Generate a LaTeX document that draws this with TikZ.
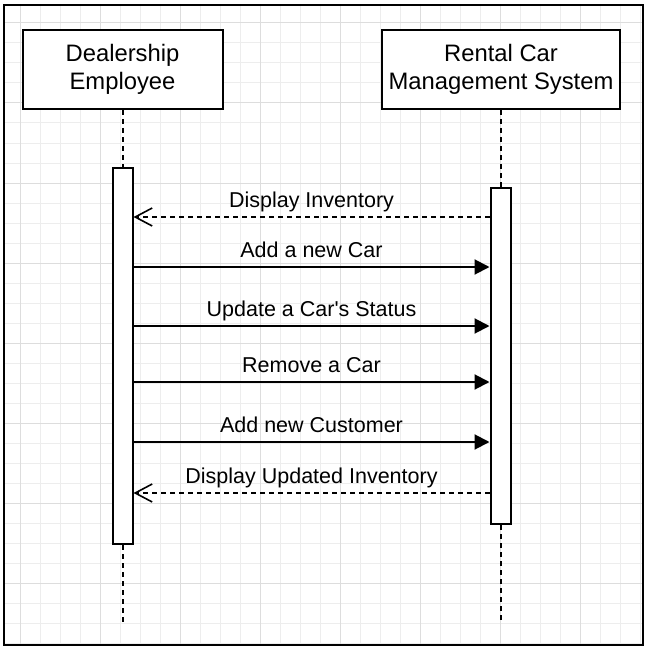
\documentclass[tikz,border=0pt]{standalone}
\usepackage{fontspec}
\setmainfont{Liberation Sans}
\usetikzlibrary{arrows.meta}

\tikzset{
  actor/.style={draw, line width=2pt, fill=white, minimum width=200pt, minimum height=79pt, align=center, font=\fontsize{23.8}{28}\selectfont},
  activation/.style={draw, line width=2pt, fill=white, minimum width=20pt, inner sep=0pt},
  lifeline/.style={line width=2pt, dash pattern=on 5pt off 4pt},
  call/.style={line width=2pt, -{Triangle[length=15pt,width=15pt]}},
  reply/.style={line width=1.6pt, dash pattern=on 5pt off 4pt, -{Straight Barb[length=17pt,width=18pt]}},
  msg/.style={midway, above, inner sep=4pt, text depth=5pt, font=\fontsize{21.5}{26}\selectfont}
}

\begin{document}
\begin{tikzpicture}[x=1pt, y=-1pt]
    \useasboundingbox[fill=white] (0,0) rectangle (647,650);
    % grid
    \begin{scope}
    \clip (4,5) rectangle (643,645);
    \foreach \x in {0,20,...,640} \draw[gray!14, line width=1pt] (\x,0) -- (\x,650);
    \foreach \y in {3,23,...,643} \draw[gray!14, line width=1pt] (0,\y) -- (647,\y);
    \foreach \x in {20,100,...,580} \draw[gray!27, line width=1pt] (\x,0) -- (\x,650);
    \foreach \y in {23,103,...,583} \draw[gray!27, line width=1pt] (0,\y) -- (647,\y);
    \end{scope}
    \draw[line width=2.5pt] (4,5) rectangle (643,645);

    \node[actor] at (122.5,69.5) (emp) {Dealership\\Employee};
    \node[actor, minimum width=238pt] at (501,69.5) (sys) {Rental Car\\Management System};
    \node[activation, minimum height=376pt] at (122.5,356) (actE) {};
    \node[activation, minimum height=336pt] at (500.5,356) (actS) {};
    \coordinate (endE) at (122.5,623);
    \coordinate (endS) at (500.5,623);

    \draw[lifeline] (emp.south) -- (actE.north);
    \draw[lifeline] (actE.south) -- (endE);
    \draw[lifeline] (sys.south -| actS.north) -- (actS.north);
    \draw[lifeline] (actS.south) -- (endS);

    \draw[reply] (actS.west |- 0,217) -- node[msg] {Display Inventory} (actE.east |- 0,217);
    \draw[call] (actE.east |- 0,267) -- node[msg] {Add a new Car} (actS.west |- 0,267);
    \draw[call] (actE.east |- 0,326) -- node[msg] {Update a Car\textquotesingle s Status} (actS.west |- 0,326);
    \draw[call] (actE.east |- 0,382) -- node[msg] {Remove a Car} (actS.west |- 0,382);
    \draw[call] (actE.east |- 0,442) -- node[msg] {Add new Customer} (actS.west |- 0,442);
    \draw[reply] (actS.west |- 0,493) -- node[msg] {Display Updated Inventory} (actE.east |- 0,493);
\end{tikzpicture}
\end{document}
